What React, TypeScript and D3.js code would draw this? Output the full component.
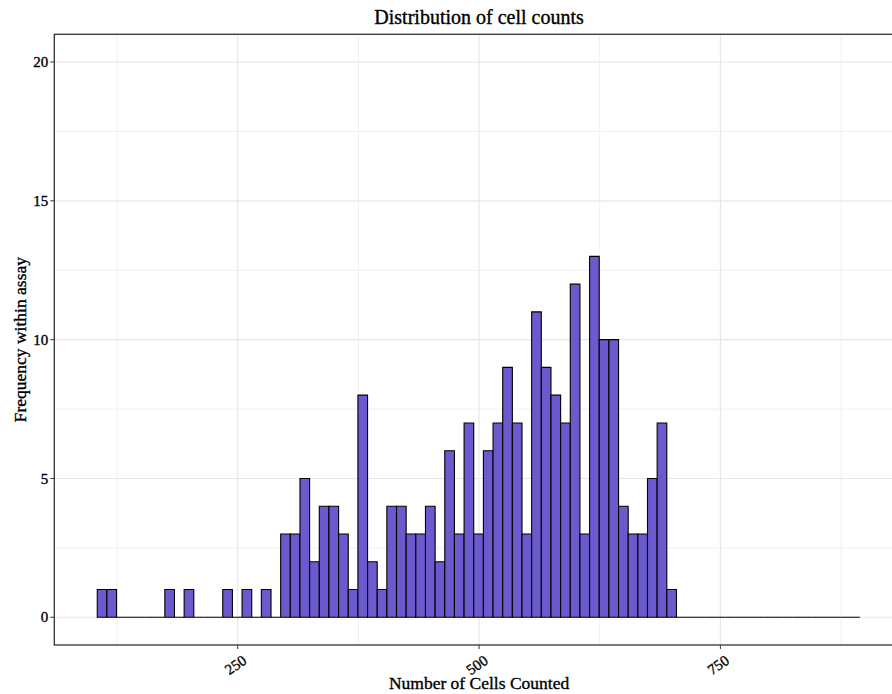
import React from 'react';
import * as d3 from 'd3';

// histogram of cell counts, binwidth 10
const binStart = 104.5;
const binWidth = 10;
const counts = [
  1, 1, 0, 0, 0, 0, 0, 1, 0, 1, 0, 0, 0, 1, 0, 1, 0, 1, 0,
  3, 3, 5, 2, 4, 4, 3, 1, 8, 2, 1, 4, 4, 3, 3, 4, 2, 6, 3, 7, 3,
  6, 7, 9, 7, 3, 11, 9, 8, 7, 12, 3, 13, 10, 10, 4, 3, 3, 5, 7, 1,
  0, 0, 0, 0, 0, 0, 0, 0, 0, 0, 0, 0, 0, 0, 0, 0, 0, 0, 0,
];
const xTicks = [250, 500, 750];
const xMinor = [125, 375, 625, 875];
const yTicks = [0, 5, 10, 15, 20];
const yMinor = [2.5, 7.5, 12.5, 17.5];

const width = 892;
const height = 694;
const panel = { left: 54.3, right: 903.8, top: 34.3, bottom: 645 };
const font = '"Liberation Serif", "Times New Roman", serif';

export default function App() {
  const x = d3.scaleLinear().domain([60, 940]).range([panel.left, panel.right]);
  const y = d3.scaleLinear().domain([-1, 21]).range([panel.bottom, panel.top]);

  const bins = counts.map((c, i) => ({ x0: binStart + i * binWidth, x1: binStart + (i + 1) * binWidth, c }));

  // slight stroke makes the serif text as heavy as in the original
  const textStyle = { fontFamily: font, fill: '#000', stroke: '#000', strokeWidth: 0.35 };

  return (
    <svg width={width} height={height} style={{ position: 'absolute', left: 0, top: 0, background: '#fff' }}>
      <defs>
        <clipPath id="panel">
          <rect x={panel.left} y={panel.top} width={panel.right - panel.left} height={panel.bottom - panel.top} />
        </clipPath>
      </defs>
      <g clipPath="url(#panel)">
        {xMinor.map(v => (
          <line key={'xm' + v} x1={x(v)} x2={x(v)} y1={panel.top} y2={panel.bottom} stroke="#f0f0f0" strokeWidth={1} />
        ))}
        {yMinor.map(v => (
          <line key={'ym' + v} x1={panel.left} x2={panel.right} y1={y(v)} y2={y(v)} stroke="#f0f0f0" strokeWidth={1} />
        ))}
        {xTicks.map(v => (
          <line key={'xg' + v} x1={x(v)} x2={x(v)} y1={panel.top} y2={panel.bottom} stroke="#e6e6e6" strokeWidth={1.1} />
        ))}
        {yTicks.map(v => (
          <line key={'yg' + v} x1={panel.left} x2={panel.right} y1={y(v)} y2={y(v)} stroke="#e6e6e6" strokeWidth={1.1} />
        ))}
        {bins.map((b, i) => {
          const p = d3.path();
          p.moveTo(x(b.x0), y(0));
          p.lineTo(x(b.x0), y(b.c));
          p.lineTo(x(b.x1), y(b.c));
          p.lineTo(x(b.x1), y(0));
          p.closePath();
          return <path key={i} d={p.toString()} fill="#6a5acd" stroke="#000" strokeWidth={1.1} />;
        })}
      </g>
      <rect
        x={panel.left}
        y={panel.top}
        width={panel.right - panel.left}
        height={panel.bottom - panel.top}
        fill="none"
        stroke="#333"
        strokeWidth={1.3}
      />
      {yTicks.map(v => (
        <g key={'yt' + v}>
          <line x1={panel.left - 4} x2={panel.left} y1={y(v)} y2={y(v)} stroke="#333" strokeWidth={1} />
          <text x={panel.left - 6} y={y(v)} dy="0.35em" textAnchor="end" fontSize={15} {...textStyle}>
            {v}
          </text>
        </g>
      ))}
      {xTicks.map(v => (
        <g key={'xt' + v}>
          <line x1={x(v)} x2={x(v)} y1={panel.bottom} y2={panel.bottom + 4} stroke="#333" strokeWidth={1} />
          <text
            transform={`translate(${x(v) + 4},${panel.bottom + 9}) rotate(-35)`}
            dy="0.7em"
            textAnchor="end"
            fontSize={15}
            {...textStyle}
          >
            {v}
          </text>
        </g>
      ))}
      <text x={(panel.left + panel.right) / 2} y={24} textAnchor="middle" fontSize={20} {...textStyle}>
        Distribution of cell counts
      </text>
      <text x={(panel.left + panel.right) / 2} y={689} textAnchor="middle" fontSize={17.5} {...textStyle}>
        Number of Cells Counted
      </text>
      <text
        transform={`translate(26,${(panel.top + panel.bottom) / 2}) rotate(-90)`}
        textAnchor="middle"
        fontSize={17.5}
        {...textStyle}
      >
        Frequency within assay
      </text>
    </svg>
  );
}
